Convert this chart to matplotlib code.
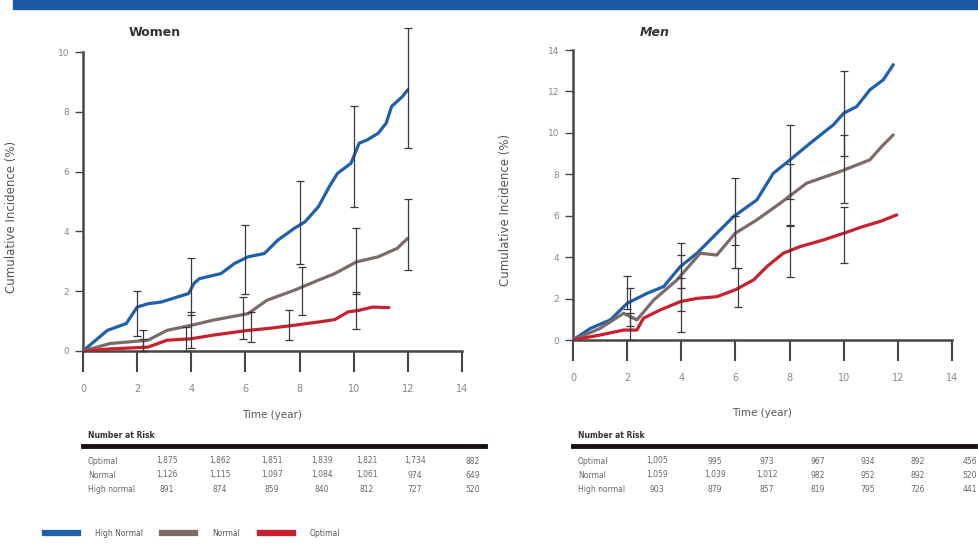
import numpy as np
import matplotlib
matplotlib.use("Agg")
import matplotlib.pyplot as plt
from matplotlib.lines import Line2D
from matplotlib.patches import Rectangle

BLUE = "#1f5fad"
GRAY = "#7d6b67"
RED = "#c8202f"

# ---- Women curves (years, cumulative incidence %) ----
w_high_x = [0, 0.9, 1.6, 2.0, 2.4, 2.9, 3.5, 3.9, 4.1, 4.3, 5.1, 5.6, 6.1, 6.7, 7.2, 7.8, 8.2,
            8.7, 9.1, 9.4, 9.9, 10.2, 10.5, 10.9, 11.2, 11.4, 11.8, 12.0]
w_high_y = [0, 0.69, 0.92, 1.47, 1.58, 1.64, 1.81, 1.92, 2.26, 2.42, 2.59, 2.93, 3.15, 3.26, 3.71,
            4.1, 4.32, 4.83, 5.5, 5.94, 6.28, 6.95, 7.06, 7.28, 7.62, 8.18, 8.51, 8.74]
w_norm_x = [0, 1.0, 2.4, 3.1, 4.0, 4.8, 6.1, 6.8, 7.8, 8.7, 9.3, 10.1, 10.9, 11.6, 12.0]
w_norm_y = [0, 0.25, 0.36, 0.69, 0.86, 1.03, 1.25, 1.7, 2.03, 2.37, 2.59, 2.98, 3.15, 3.43, 3.77]
w_opt_x = [0, 1.0, 2.4, 3.1, 4.0, 4.8, 6.1, 6.8, 7.8, 8.7, 9.3, 9.8, 10.2, 10.7, 11.3]
w_opt_y = [0, 0.07, 0.13, 0.36, 0.41, 0.53, 0.69, 0.75, 0.86, 0.97, 1.05, 1.31, 1.36, 1.47, 1.45]

# error bars (x, low, high)
w_high_err_x = [2, 4, 6, 8, 10, 12]
w_high_err_lo = [0.5, 1.2, 1.9, 2.9, 4.8, 6.8]
w_high_err_hi = [2.0, 3.1, 4.2, 5.7, 8.2, 10.8]
w_norm_err_x = [2.2, 4.0, 5.9, 8.1, 10.1, 12.0]
w_norm_err_lo = [0.0, 0.1, 0.4, 1.2, 1.9, 2.7]
w_norm_err_hi = [0.7, 1.3, 1.8, 2.8, 4.1, 5.1]
w_opt_err_x = [2.2, 3.8, 6.2, 7.6, 10.1]
w_opt_err_lo = [0.0, 0.0, 0.3, 0.36, 0.75]
w_opt_err_hi = [0.4, 0.8, 1.3, 1.36, 1.98]

# ---- Men curves ----
m_high_x = [0, 0.64, 1.38, 2.0, 2.73, 3.35, 3.96, 4.58, 5.31, 5.93, 6.79, 7.4, 8.02, 8.76,
            9.62, 10.0, 10.48, 10.97, 11.46, 11.83]
m_high_y = [0, 0.56, 0.97, 1.77, 2.25, 2.58, 3.54, 4.19, 5.15, 5.96, 6.76, 8.05, 8.7, 9.5,
            10.39, 10.95, 11.27, 12.08, 12.56, 13.29]
m_norm_x = [0, 1.0, 1.87, 2.36, 2.98, 3.84, 4.7, 5.31, 5.99, 6.79, 7.65, 8.63, 9.86, 10.97, 11.4, 11.83]
m_norm_y = [0, 0.56, 1.29, 0.97, 1.93, 2.9, 4.19, 4.1, 5.15, 5.8, 6.6, 7.57, 8.13, 8.7, 9.34, 9.9]
m_opt_x = [0, 1.0, 1.87, 2.36, 2.6, 3.22, 3.96, 4.58, 5.31, 5.99, 6.67, 7.16, 7.77, 8.39,
           9.25, 9.99, 10.72, 11.34, 11.96]
m_opt_y = [0, 0.24, 0.48, 0.48, 1.05, 1.45, 1.85, 2.01, 2.09, 2.42, 2.9, 3.54, 4.19, 4.51,
           4.83, 5.15, 5.48, 5.72, 6.04]

m_high_err_x = [2, 4, 6, 8, 10]
m_high_err_lo = [1.5, 2.5, 4.6, 6.8, 8.9]
m_high_err_hi = [3.1, 4.7, 7.8, 10.4, 13.0]
m_norm_err_x = [2.1, 4.0, 6.0, 8.0, 10.0]
m_norm_err_lo = [0.7, 1.4, 3.5, 5.5, 6.6]
m_norm_err_hi = [2.5, 4.1, 6.0, 8.5, 9.9]
m_opt_err_x = [2.1, 4.0, 6.1, 8.0, 10.0]
m_opt_err_lo = [0.0, 0.4, 1.6, 3.06, 3.7]
m_opt_err_hi = [1.3, 3.0, 3.46, 5.55, 6.4]

# ---- Number at risk ----
row_labels = ["Optimal", "Normal", "High normal"]
w_risk = [["1,875", "1,862", "1,851", "1,839", "1,821", "1,734", "882"],
          ["1,126", "1,115", "1,097", "1,084", "1,061", "974", "649"],
          ["891", "874", "859", "840", "812", "727", "520"]]
m_risk = [["1,005", "995", "973", "967", "934", "892", "456"],
          ["1,059", "1,039", "1,012", "982", "952", "892", "520"],
          ["903", "879", "857", "819", "795", "726", "441"]]

xticks = [0, 2, 4, 6, 8, 10, 12, 14]

fig = plt.figure(figsize=(9.79, 5.5), dpi=100)
W, H = 979, 550

# top banner
fig.patches.append(Rectangle((13 / W, 1 - 9 / H), 1, 9 / H, transform=fig.transFigure,
                             color="#1a5aa5", zorder=0))


def style_axes(ax, ymax, ystep, ax_h, xlab_y, ylab_x, ylab_y):
    ax.set_xlim(0, 14)
    ax.set_ylim(0, ymax)
    ax.set_xticks(xticks)
    ax.set_yticks(np.arange(0, ymax + 0.1, ystep))
    for s in ["top", "right"]:
        ax.spines[s].set_visible(False)
    for s in ["left", "bottom"]:
        ax.spines[s].set_color("#4a4443")
        ax.spines[s].set_linewidth(1.8)
    ax.tick_params(axis="x", length=15, width=1.5, color="#4a4443", labelsize=7,
                   labelcolor="#888888", pad=9)
    ax.tick_params(axis="y", length=6, width=1.0, color="#4a4443", labelsize=6.5,
                   labelcolor="#888888", pad=4)
    ax.set_xlabel("Time (year)", fontsize=7.5, color="#555555")
    ax.set_ylabel("Cumulative Incidence (%)", fontsize=8.5, color="#555555")
    ax.xaxis.set_label_coords(0.5, xlab_y)
    ax.yaxis.set_label_coords(ylab_x, ylab_y)


def draw_panel(ax, curves, errs):
    for (x, y, c) in curves:
        ax.plot(x, y, color=c, lw=2.3, solid_capstyle="round", zorder=3)
    for (ex, lo, hi) in errs:
        ex = np.array(ex)
        lo = np.array(lo)
        hi = np.array(hi)
        mid = (lo + hi) / 2
        eb = ax.errorbar(ex, mid, yerr=[mid - lo, hi - mid], fmt="none", ecolor="#3a3a3a",
                         elinewidth=0.9, capsize=3, capthick=0.9, zorder=4)
        for art in eb.lines[1] + eb.lines[2]:
            art.set_clip_on(False)


ax1 = fig.add_axes([83 / W, 1 - 351 / H, 379 / W, 299 / H])
draw_panel(ax1,
           [(w_high_x, w_high_y, BLUE), (w_norm_x, w_norm_y, GRAY), (w_opt_x, w_opt_y, RED)],
           [(w_high_err_x, w_high_err_lo, w_high_err_hi),
            (w_norm_err_x, w_norm_err_lo, w_norm_err_hi),
            (w_opt_err_x, w_opt_err_lo, w_opt_err_hi)])
style_axes(ax1, 10, 2, 299, -(410 - 351) / 299, (18 - 83) / 379, (351 - 217) / 299)
fig.text(155 / W, 1 - 33 / H, "Women", fontsize=9, fontweight="bold", color="#333333",
         ha="center", va="center")

ax2 = fig.add_axes([573 / W, 1 - 340 / H, 379 / W, 290 / H])
draw_panel(ax2,
           [(m_high_x, m_high_y, BLUE), (m_norm_x, m_norm_y, GRAY), (m_opt_x, m_opt_y, RED)],
           [(m_high_err_x, m_high_err_lo, m_high_err_hi),
            (m_norm_err_x, m_norm_err_lo, m_norm_err_hi),
            (m_opt_err_x, m_opt_err_lo, m_opt_err_hi)])
style_axes(ax2, 14, 2, 290, -(408 - 340) / 290, (512 - 573) / 379, (340 - 210) / 290)
fig.text(655 / W, 1 - 33 / H, "Men", fontsize=9, fontweight="bold", style="italic",
         color="#333333", ha="center", va="center")


def risk_table(x0, x1, label_x, col_x, rows):
    fig.text(label_x / W, 1 - 435 / H, "Number at Risk", fontsize=5.5, fontweight="bold",
             color="#333333", va="center")
    fig.lines.append(Line2D([x0 / W, x1 / W], [1 - 446 / H, 1 - 446 / H],
                            transform=fig.transFigure, color="#1a1010", lw=3.5))
    for i, (lab, vals) in enumerate(zip(row_labels, rows)):
        y = 1 - (461 + 14 * i) / H
        fig.text(label_x / W, y, lab, fontsize=5.5, color="#666666", va="center")
        for cx, v in zip(col_x, vals):
            fig.text(cx / W, y, v, fontsize=5.5, color="#666666", va="center", ha="center")


risk_table(83, 485, 88, [167, 220, 272, 322, 367, 415, 473], w_risk)
risk_table(573, 975, 578, [657, 715, 767, 818, 868, 918, 970], m_risk)

handles = [Line2D([], [], color=BLUE, lw=4.5),
           Line2D([], [], color=GRAY, lw=4.5),
           Line2D([], [], color=RED, lw=4.5)]
fig.legend(handles, ["High Normal", "Normal", "Optimal"], loc="center left",
           bbox_to_anchor=(38 / W, 1 - 533 / H), ncol=3, frameon=False, fontsize=5.5,
           handlelength=4.3, columnspacing=2.6, handletextpad=2.2, labelcolor="#555555")

fig.savefig("out.png", dpi=100, facecolor="white")
